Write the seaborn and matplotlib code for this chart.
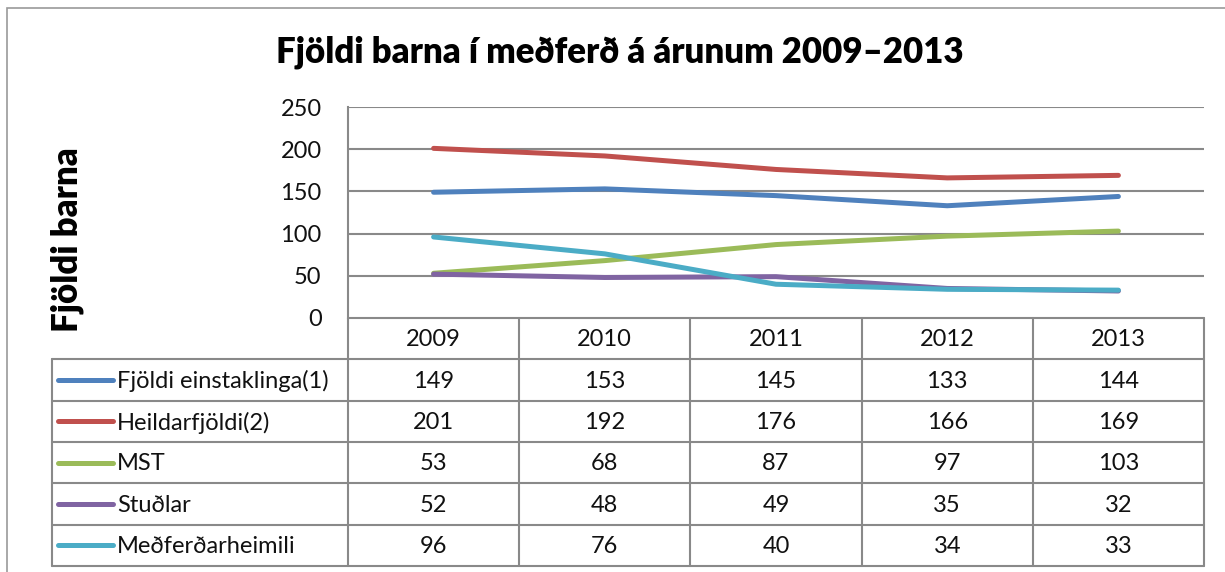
import matplotlib
matplotlib.use("Agg")
import matplotlib.pyplot as plt
import seaborn as sns
import pandas as pd
from matplotlib.patches import Rectangle
from matplotlib.lines import Line2D

years = ["2009", "2010", "2011", "2012", "2013"]
series_names = ["Fjöldi einstaklinga(1)", "Heildarfjöldi(2)", "MST", "Stuðlar", "Meðferðarheimili"]
fjoldi_einstaklinga = [149, 153, 145, 133, 144]
heildarfjoldi = [201, 192, 176, 166, 169]
mst = [53, 68, 87, 97, 103]
studlar = [52, 48, 49, 35, 32]
medferdarheimili = [96, 76, 40, 34, 33]
series_values = [fjoldi_einstaklinga, heildarfjoldi, mst, studlar, medferdarheimili]
colors = ["#4F81BD", "#C0504D", "#9BBB59", "#8064A2", "#4BACC6"]
title = "Fjöldi barna í meðferð á árunum 2009–2013"
ylabel = "Fjöldi barna"
yticks = [0, 50, 100, 150, 200, 250]

sns.set_theme(style="white")
plt.rcParams["font.family"] = ["Lato", "DejaVu Sans"]

W, H = 1225, 572
fig = plt.figure(figsize=(W / 100, H / 100), dpi=100)

def box(x0, y0, x1, y1):
    return [x0 / W, 1 - y1 / H, (x1 - x0) / W, (y1 - y0) / H]

grid_c = "#898989"
fs = 17
# outer chart border
fig.patches.append(Rectangle((7 / W, -0.1), 1.2, 1 - 8 / H + 0.1, transform=fig.transFigure,
                             fill=False, edgecolor="#9a9a9a", linewidth=1.2))

ax = fig.add_axes(box(348, 107, 1204, 318))
rows = []
for name, vals in zip(series_names, series_values):
    for i, v in enumerate(vals):
        rows.append({"idx": i, "value": v, "series": name})
df = pd.DataFrame(rows)
sns.lineplot(data=df, x="idx", y="value", hue="series", palette=colors,
             hue_order=series_names, linewidth=3.6, ax=ax, legend=False,
             solid_capstyle="round", solid_joinstyle="round")
ax.set_xlim(-0.5, len(years) - 0.5)
ax.set_ylim(0, 250)
ax.set_yticks(yticks)
ax.set_yticklabels([str(t) for t in yticks], fontsize=fs, color="#111111")
ax.tick_params(axis="y", length=0, pad=19)
ax.set_xticks([])
ax.set_xlabel("")
ax.set_ylabel("")
for t in yticks[1:]:
    ax.axhline(t, color=grid_c, linewidth=1.5, zorder=0)
for s in ["top", "right", "bottom"]:
    ax.spines[s].set_visible(False)
ax.spines["left"].set_color(grid_c)
ax.spines["left"].set_linewidth(1.5)

# data table
n = len(years)
unit = (1204 - 348) / n
leg_w = (348 - 52) / unit
tx0 = -0.5 - leg_w
tax = fig.add_axes(box(52, 318, 1204, 566))
tax.set_xlim(tx0, n - 0.5)
tax.set_ylim(len(series_names) + 0.5, -0.5)
tax.axis("off")
lw = 1.5
tax.plot([-0.5, n - 0.5], [-0.5, -0.5], color=grid_c, lw=lw, clip_on=False)
for r in range(len(series_names) + 1):
    tax.plot([tx0, n - 0.5], [r + 0.5, r + 0.5], color=grid_c, lw=lw, clip_on=False)
for c in range(n + 1):
    tax.plot([c - 0.5, c - 0.5], [-0.5, len(series_names) + 0.5], color=grid_c, lw=lw, clip_on=False)
tax.plot([tx0, tx0], [0.5, len(series_names) + 0.5], color=grid_c, lw=lw, clip_on=False)
for i, yr in enumerate(years):
    tax.text(i, 0.03, yr, ha="center", va="center", fontsize=fs, color="#111111")
for r, (name, vals, col) in enumerate(zip(series_names, series_values, colors), start=1):
    lx0 = tx0 + 6 / unit
    lx1 = tx0 + 61 / unit
    tax.add_line(Line2D([lx0, lx1], [r, r], color=col, lw=3.6, solid_capstyle="round"))
    tax.text(tx0 + 65 / unit, r + 0.03, name, ha="left", va="center", fontsize=fs, color="#111111")
    for i, v in enumerate(vals):
        tax.text(i, r + 0.03, str(v), ha="center", va="center", fontsize=fs, color="#111111")

fig.text(620 / W, 1 - 52 / H, title, ha="center", va="center", fontsize=25, fontweight="heavy", color="#000000")
fig.text(67 / W, 1 - 240 / H, ylabel, ha="center", va="center", rotation=90, fontsize=25,
         fontweight="heavy", color="#000000")

fig.savefig("out.png", dpi=100)
